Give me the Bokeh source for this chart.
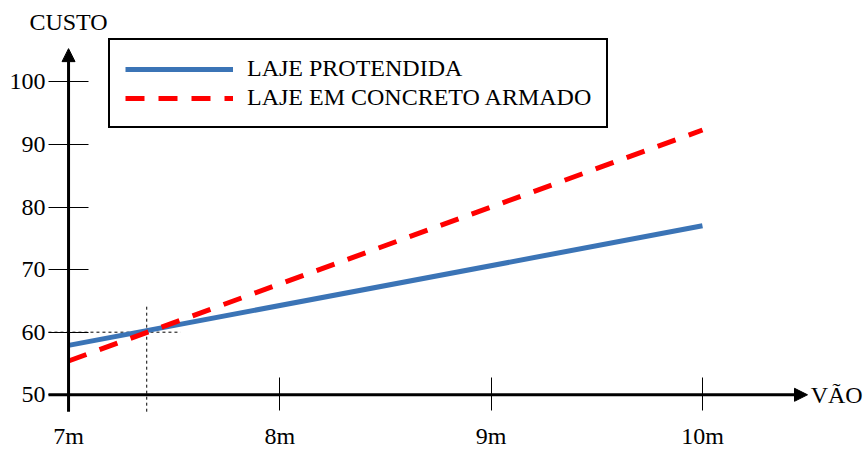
from bokeh.plotting import figure
from bokeh.models import (LinearAxis, FixedTicker, Arrow, NormalHead, Label,
                          Legend, LegendItem, Range1d)
from bokeh.embed import file_html
from bokeh.resources import INLINE

# ---- data ----
span_m = [7, 10]
laje_protendida = [57.9, 77.0]
laje_concreto = [55.4, 92.3]
x_ticks = [7, 8, 9, 10]
x_tick_labels = ["7m", "8m", "9m", "10m"]
y_ticks = [50, 60, 70, 80, 90, 100]
break_even_x = 7.37
break_even_y = 60

# axis extents (data units)
x_axis_start, x_axis_end = 6.905, 10.497
y_axis_start, y_axis_end = 47.3, 105.3

SERIF = "Liberation Serif"
BLUE = "#3b74b6"
RED = "#ff0000"

p = figure(width=863, height=449, output_backend="svg", toolbar_location=None,
           x_range=Range1d(6.678, 10.762), y_range=Range1d(41.26, 112.99),
           x_axis_type=None, y_axis_type=None, min_border=0)
p.outline_line_color = None
p.background_fill_color = "white"
p.border_fill_color = "white"

# ---- axes (ticks & labels) ----
xaxis = LinearAxis(fixed_location=50, ticker=FixedTicker(ticks=x_ticks),
                   major_label_overrides={t: l for t, l in zip(x_ticks, x_tick_labels)})
xaxis.axis_line_color = None
xaxis.major_tick_in = 17
xaxis.major_tick_out = 16
xaxis.major_tick_line_width = 1
xaxis.major_tick_line_color = "black"
xaxis.minor_tick_line_color = None
xaxis.major_label_text_font = SERIF
xaxis.major_label_text_font_size = "24px"
xaxis.major_label_text_color = "black"
xaxis.major_label_standoff = 12
p.add_layout(xaxis, "below")

yaxis = LinearAxis(fixed_location=7, ticker=FixedTicker(ticks=y_ticks))
yaxis.axis_line_color = None
yaxis.major_tick_in = 20
yaxis.major_tick_out = 20
yaxis.major_tick_line_width = 1
yaxis.major_tick_line_color = "black"
yaxis.minor_tick_line_color = None
yaxis.major_label_text_font = SERIF
yaxis.major_label_text_font_size = "24px"
yaxis.major_label_text_color = "black"
yaxis.major_label_standoff = 3
p.add_layout(yaxis, "left")

# axis lines with arrows
p.add_layout(Arrow(end=NormalHead(size=13, fill_color="black", line_color="black", line_width=1),
                   x_start=7, y_start=y_axis_start, x_end=7, y_end=y_axis_end,
                   line_width=3, line_color="black"))
p.add_layout(Arrow(end=NormalHead(size=13, fill_color="black", line_color="black", line_width=1),
                   x_start=x_axis_start, y_start=50, x_end=x_axis_end, y_end=50,
                   line_width=3, line_color="black"))

# break-even guides
p.segment(x0=[break_even_x, x_axis_start], y0=[y_axis_start, break_even_y],
          x1=[break_even_x, 7.53], y1=[64.3, break_even_y],
          line_color="black", line_width=1, line_dash="3 3")

# ---- series ----
r1 = p.line(span_m, laje_protendida, line_color=BLUE, line_width=5)
r2 = p.line(span_m, laje_concreto, line_color=RED, line_width=5, line_dash="19 14")

legend = Legend(items=[LegendItem(label="LAJE PROTENDIDA", renderers=[r1]),
                       LegendItem(label="LAJE EM CONCRETO ARMADO", renderers=[r2])],
                location=(108, 321))
legend.border_line_color = "black"
legend.border_line_alpha = 1
legend.border_line_width = 2
legend.background_fill_color = "white"
legend.background_fill_alpha = 1
legend.label_text_font = SERIF
legend.label_text_font_size = "24px"
legend.label_text_color = "black"
legend.glyph_width = 108
legend.glyph_height = 24
legend.label_height = 24
legend.label_standoff = 14
legend.padding = 15
legend.spacing = 2
legend.margin = 0
p.add_layout(legend, "center")

p.add_layout(Label(x=7, y=109.6, text="CUSTO", text_align="center", text_baseline="middle",
                   text_font=SERIF, text_font_size="24px", text_color="black"))
p.add_layout(Label(x=10.512, y=50, text="VÃO", text_align="left", text_baseline="middle",
                   text_font=SERIF, text_font_size="24px", text_color="black"))

open("out.html", "w").write(file_html(p, INLINE))
